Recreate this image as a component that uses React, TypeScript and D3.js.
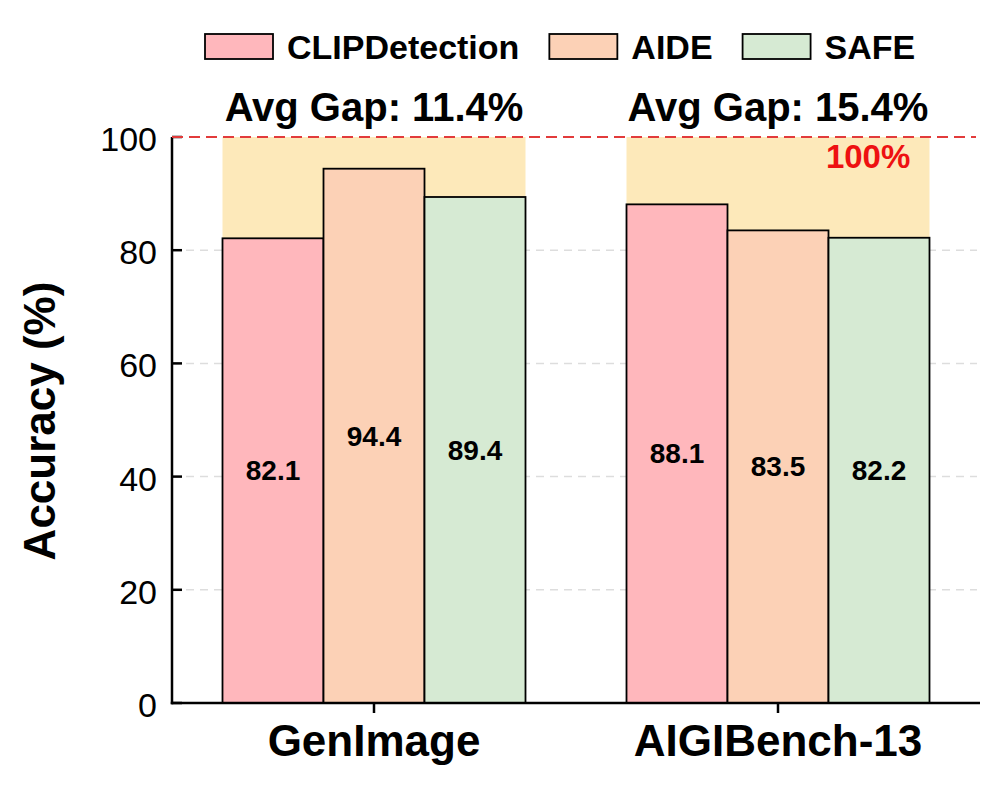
import * as d3 from "d3";
import React, { useEffect, useRef } from "react";

const datasets = ["GenImage", "AIGIBench-13"];
const methods = ["CLIPDetection", "AIDE", "SAFE"];
const colors = ["#FFB7BC", "#FCD1B6", "#D6EAD3"];
// accuracy per method, one entry per dataset
const clipDetection = [82.1, 88.1];
const aide = [94.4, 83.5];
const safe = [89.4, 82.2];
const yTicks = [0, 20, 40, 60, 80, 100];

const FONT = "'Liberation Sans', Arial, Helvetica, sans-serif";

export default function App() {
  const svgRef = useRef<SVGSVGElement | null>(null);

  useEffect(() => {
    document.body.style.margin = "0";
    const svg = d3.select(svgRef.current);
    svg.selectAll("*").remove();

    const series = [clipDetection, aide, safe];
    const x = d3.scaleLinear().domain([-0.5, 1.5]).range([172, 980]);
    const y = d3.scaleLinear().domain([0, 100]).range([703, 137]);
    const barW = 0.25;
    const bw = x(barW) - x(0);

    const root = svg.append("g");

    // gap shading behind each group
    datasets.forEach((ds, i) => {
      const vals = series.map((s) => s[i]);
      const lo = d3.min(vals) ?? 0;
      root.append("rect")
        .attr("x", x(i - 1.5 * barW))
        .attr("y", y(100))
        .attr("width", x(i + 1.5 * barW) - x(i - 1.5 * barW))
        .attr("height", y(lo) - y(100))
        .attr("fill", "#FDE9BA");
    });

    // grid
    root.append("g")
      .selectAll("line")
      .data(yTicks.filter((t) => t > 0 && t < 100))
      .join("line")
      .attr("x1", x(-0.5))
      .attr("x2", 977)
      .attr("y1", (d) => y(d))
      .attr("y2", (d) => y(d))
      .attr("stroke", "#dddddd")
      .attr("stroke-width", 1.5)
      .attr("stroke-dasharray", "8,6");

    // bars
    series.forEach((s, j) => {
      root.append("g")
        .selectAll("rect")
        .data(s)
        .join("rect")
        .attr("x", (_, i) => x(i + (j - 1) * barW) - bw / 2)
        .attr("y", (d) => y(d))
        .attr("width", bw)
        .attr("height", (d) => y(0) - y(d))
        .attr("fill", colors[j])
        .attr("stroke", "#000")
        .attr("stroke-width", 1.8);

      root.append("g")
        .selectAll("text")
        .data(s)
        .join("text")
        .attr("x", (_, i) => x(i + (j - 1) * barW))
        .attr("y", (d) => y(d / 2))
        .attr("dy", "0.35em")
        .attr("text-anchor", "middle")
        .attr("font-family", FONT)
        .attr("font-weight", 700)
        .attr("font-size", 28)
        .text((d) => d.toFixed(1));
    });

    // avg gap titles
    datasets.forEach((ds, i) => {
      const mean = d3.mean(series.map((s) => s[i])) ?? 0;
      root.append("text")
        .attr("x", x(i))
        .attr("y", y(100) - 16)
        .attr("text-anchor", "middle")
        .attr("font-family", FONT)
        .attr("font-weight", 700)
        .attr("font-size", 40)
        .text(`Avg Gap: ${(100 - mean).toFixed(1)}%`);
    });

    // axes
    const ax = root.append("g");
    ax.selectAll("line.ytick")
      .data(yTicks)
      .join("line")
      .attr("class", "ytick")
      .attr("x1", x(-0.5))
      .attr("x2", x(-0.5) + 10)
      .attr("y1", (d) => y(d))
      .attr("y2", (d) => y(d))
      .attr("stroke", "#000")
      .attr("stroke-width", 2.5);
    ax.selectAll("text.ylab")
      .data(yTicks)
      .join("text")
      .attr("class", "ylab")
      .attr("x", x(-0.5) - 15)
      .attr("y", (d) => y(d))
      .attr("dy", 14)
      .attr("text-anchor", "end")
      .attr("font-family", FONT)
      .attr("font-size", 34)
      .text((d) => d);

    ax.selectAll("line.xtick")
      .data(datasets)
      .join("line")
      .attr("class", "xtick")
      .attr("x1", (_, i) => x(i))
      .attr("x2", (_, i) => x(i))
      .attr("y1", y(0))
      .attr("y2", y(0) + 10)
      .attr("stroke", "#000")
      .attr("stroke-width", 2.5);
    ax.selectAll("text.xlab")
      .data(datasets)
      .join("text")
      .attr("class", "xlab")
      .attr("x", (_, i) => x(i))
      .attr("y", 756)
      .attr("text-anchor", "middle")
      .attr("font-family", FONT)
      .attr("font-weight", 700)
      .attr("font-size", 44)
      .text((d) => d);

    ax.append("line")
      .attr("x1", x(-0.5)).attr("x2", x(-0.5))
      .attr("y1", y(100)).attr("y2", y(0) + 1.25)
      .attr("stroke", "#000").attr("stroke-width", 2.5);
    ax.append("line")
      .attr("x1", x(-0.5) - 1.25).attr("x2", x(1.5))
      .attr("y1", y(0)).attr("y2", y(0))
      .attr("stroke", "#000").attr("stroke-width", 2.5);

    // 100% reference line
    root.append("line")
      .attr("x1", x(-0.5))
      .attr("x2", 976)
      .attr("y1", y(100))
      .attr("y2", y(100))
      .attr("stroke", "#E23B3B")
      .attr("stroke-width", 2.2)
      .attr("stroke-dasharray", "11,6");
    root.append("text")
      .attr("x", x(1 + 0.223))
      .attr("y", y(100) + 31)
      .attr("text-anchor", "middle")
      .attr("font-family", FONT)
      .attr("font-weight", 700)
      .attr("font-size", 33)
      .attr("fill", "#EE1111")
      .text("100%");

    // y label
    root.append("text")
      .attr("transform", `translate(55,421) rotate(-90)`)
      .attr("text-anchor", "middle")
      .attr("font-family", FONT)
      .attr("font-weight", 700)
      .attr("font-size", 44)
      .text("Accuracy (%)");

    // legend
    const ctx = document.createElement("canvas").getContext("2d");
    const legendFont = 34;
    let lx = 205;
    const leg = root.append("g");
    methods.forEach((m, j) => {
      leg.append("rect")
        .attr("x", lx)
        .attr("y", 34)
        .attr("width", 68)
        .attr("height", 25)
        .attr("fill", colors[j])
        .attr("stroke", "#000")
        .attr("stroke-width", 1.8);
      leg.append("text")
        .attr("x", lx + 82)
        .attr("y", 59)
        .attr("font-family", FONT)
        .attr("font-weight", 700)
        .attr("font-size", legendFont)
        .text(m);
      let tw = m.length * legendFont * 0.6;
      if (ctx) {
        ctx.font = `bold ${legendFont}px ${FONT}`;
        tw = ctx.measureText(m).width;
      }
      lx += 82 + tw + 30;
    });
  }, []);

  return <svg ref={svgRef} width={1000} height={786} style={{ display: "block" }} />;
}
